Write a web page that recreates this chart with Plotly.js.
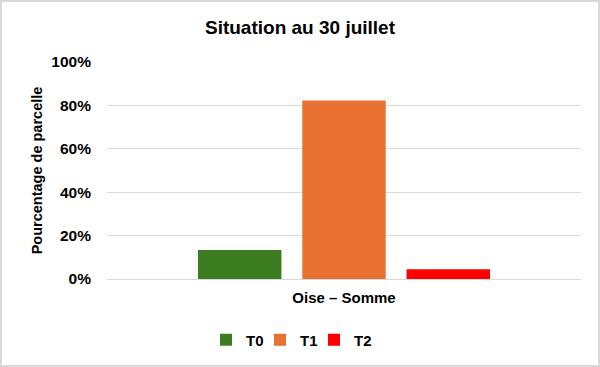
<!DOCTYPE html>
<html>
<head>
<meta charset="utf-8">
<script src="https://cdn.plot.ly/plotly-3.0.1.min.js"></script>
<style>
html,body{margin:0;padding:0;background:#fff;}
#wrap{width:600px;height:367px;box-sizing:border-box;border:2px solid #d9d9d9;overflow:hidden;}
#chart{width:596px;height:363px;}
</style>
</head>
<body>
<div id="wrap"><div id="chart"></div></div>
<script>
const categories = ["Oise – Somme"];
const seriesNames = ["T0", "T1", "T2"];
const seriesValues = [[0.134], [0.823], [0.045]];
const seriesColors = ["#3c7d22", "#e97132", "#ff0000"];
const yTickVals = [0, 0.2, 0.4, 0.6, 0.8, 1.0];
const yTickText = ["0%", "20%", "40%", "60%", "80%", "100%"];

const legendIds = ["legend", "legend2", "legend3"];

const traces = seriesNames.map((n, i) => ({
  type: "bar",
  name: n,
  x: categories,
  y: seriesValues[i],
  legend: legendIds[i],
  marker: {color: seriesColors[i], line: {width: 0}},
  hoverinfo: "skip"
}));

const boldFont = (s) => ({family: "Liberation Sans, Arial, sans-serif", size: s, color: "#000", weight: 700});
const W = 596, H = 363;
const legendLeftPx = [206, 260, 314];

const layout = {
  width: W, height: H,
  margin: {l: 105, r: 17, t: 60, b: 86},
  paper_bgcolor: "#fff", plot_bgcolor: "#fff",
  font: {family: "Liberation Sans, Arial, sans-serif", color: "#000"},
  title: {
    text: "<b>Situation au 30 juillet</b>",
    font: {family: "Liberation Sans, Arial", size: 19, color: "#000"},
    x: 0.5, xref: "container", xanchor: "center",
    y: 1 - 25/H, yref: "container", yanchor: "middle"
  },
  barmode: "group",
  bargap: 0.34,
  bargroupgap: 0.2,
  xaxis: {
    type: "category",
    showgrid: false, zeroline: false, showline: false,
    ticks: "",
    tickfont: boldFont(15),
    ticklabelstandoff: 8,
    fixedrange: true
  },
  yaxis: {
    range: [0, 1],
    tickvals: yTickVals, ticktext: yTickText,
    showgrid: true, gridcolor: "#d9d9d9", gridwidth: 1,
    zeroline: true, zerolinecolor: "#d9d9d9", zerolinewidth: 1,
    showline: false, ticks: "",
    tickfont: boldFont(15.5),
    ticklabelstandoff: 15,
    title: {text: "Pourcentage de parcelle", font: boldFont(14.5), standoff: 5},
    fixedrange: true
  },
  showlegend: true
};

legendIds.forEach((id, i) => {
  layout[id] = {
    orientation: "h",
    xref: "container", x: (legendLeftPx[i] - 2) / W, xanchor: "left",
    yref: "container", y: 1 - 338/H, yanchor: "middle",
    font: boldFont(15),
    itemwidth: 30,
    bgcolor: "rgba(0,0,0,0)"
  };
});

Plotly.newPlot("chart", traces, layout, {displayModeBar: false, staticPlot: true});
</script>
</body>
</html>
